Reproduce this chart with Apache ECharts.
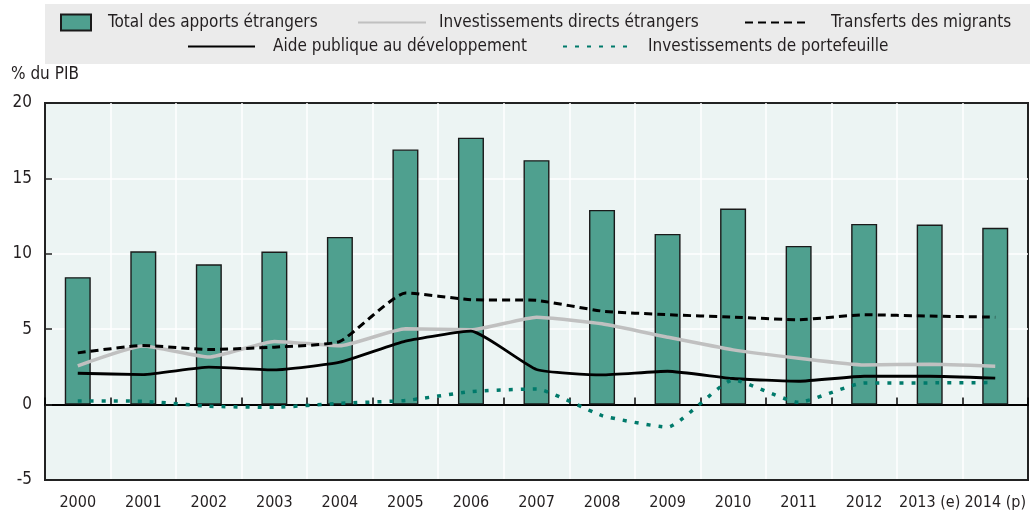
<!DOCTYPE html>
<html>
<head>
<meta charset="utf-8">
<script src="https://cdn.jsdelivr.net/npm/echarts@6/dist/echarts.min.js"></script>
<style>
  html, body { margin: 0; padding: 0; background: #fff; }
  #chart { width: 1032px; height: 513px; }
</style>
</head>
<body>
<div id="chart"></div>
<script>
var years = ['2000', '2001', '2002', '2003', '2004', '2005', '2006', '2007',
             '2008', '2009', '2010', '2011', '2012', '2013 (e)', '2014 (p)'];

// % du PIB
var totalApports = [8.45, 10.17, 9.3, 10.15, 11.12, 16.92, 17.7, 16.21, 12.91, 11.32, 13.0, 10.52, 11.98, 11.94, 11.72];
var ide = [2.57, 3.88, 3.15, 4.19, 3.9, 5.03, 4.96, 5.8, 5.36, 4.47, 3.63, 3.08, 2.63, 2.68, 2.55];
var transferts = [3.43, 3.92, 3.65, 3.81, 4.19, 7.4, 6.96, 6.91, 6.2, 5.96, 5.8, 5.63, 5.96, 5.87, 5.8];
var apd = [2.08, 1.99, 2.48, 2.3, 2.81, 4.21, 4.87, 2.33, 1.97, 2.21, 1.73, 1.55, 1.88, 1.88, 1.75];
var portefeuille = [0.24, 0.22, -0.11, -0.18, 0.09, 0.27, 0.86, 1.04, -0.73, -1.5, 1.64, 0.15, 1.44, 1.44, 1.46];

var yTicks = { min: -5, max: 20, interval: 5 };

var FONT = '"DejaVu Sans Condensed", "Liberation Sans Narrow", sans-serif';
var TXT = '#231f20';

var chart = echarts.init(document.getElementById('chart'));

function legendItem(name, left, top, w, h, pad, isLine) {
	var l = {
		data: [isLine ? name : { name: name, icon: 'rect' }],
		left: left,
		top: top,
		padding: 0,
		itemWidth: w,
		itemHeight: h,
		selectedMode: false,
		textStyle: {
			fontFamily: FONT,
			fontSize: 17,
			color: TXT,
			lineHeight: 20,
			padding: [0, 0, 0, pad]
		}
	};
	// line series: hide the marker, keep the line
	if (isLine) l.itemStyle = { opacity: 0 };
	return l;
}

chart.setOption({
	animation: false,
	textStyle: { fontFamily: FONT },
	graphic: [{
		type: 'rect',
		z: -10,
		shape: { x: 45, y: 4, width: 985, height: 60 },
		style: { fill: '#ebebeb' }
	}],
	title: {
		text: '% du PIB',
		left: 11,
		top: 66,
		padding: 0,
		textStyle: { fontFamily: FONT, fontSize: 17, fontWeight: 'normal', color: TXT }
	},
	legend: [
		legendItem('Total des apports étrangers', 60, 12.5, 30, 16, 12, false),
		legendItem('Investissements directs étrangers', 357, 12.5, 68, 14, 8, true),
		legendItem('Transferts des migrants', 744, 12.5, 64, 14, 17, true),
		legendItem('Aide publique au développement', 187, 36.5, 67, 14, 13, true),
		legendItem('Investissements de portefeuille', 562, 36.5, 68, 14, 12, true)
	],
	grid: {
		left: 45,
		right: 4,
		top: 103,
		bottom: 33,
		show: true,
		backgroundColor: '#ecf4f3',
		borderColor: '#222',
		borderWidth: 2
	},
	xAxis: [{
		type: 'category',
		data: years,
		position: 'bottom',
		axisLine: { onZero: false, lineStyle: { color: '#222', width: 2 } },
		axisTick: { show: false },
		axisLabel: { fontFamily: FONT, fontSize: 16, color: TXT, margin: 15, interval: 0 },
		splitLine: { show: true, interval: 0, showMinLine: false, showMaxLine: false,
			lineStyle: { color: '#ffffff', width: 1.5 } }
	}, {
		type: 'category',
		data: years,
		position: 'bottom',
		axisLine: { onZero: true, lineStyle: { color: '#000', width: 2 } },
		axisTick: { show: true, inside: true, length: 7, interval: 0, lineStyle: { color: '#000', width: 1.5 } },
		axisLabel: { show: false },
		splitLine: { show: false }
	}],
	yAxis: {
		type: 'value',
		min: yTicks.min,
		max: yTicks.max,
		interval: yTicks.interval,
		axisLine: { show: true, onZero: false, lineStyle: { color: '#222', width: 2 } },
		axisTick: { show: true, inside: true, length: 7, lineStyle: { color: '#222', width: 1.5 } },
		axisLabel: { fontFamily: FONT, fontSize: 17, color: TXT, margin: 13 },
		splitLine: { show: true, showMinLine: false, showMaxLine: false,
			lineStyle: { color: '#ffffff', width: 1.5 } }
	},
	series: [{
		name: 'Total des apports étrangers',
		type: 'bar',
		xAxisIndex: 0,
		barWidth: 26,
		itemStyle: { color: '#4fa08f', borderColor: '#1a1a1a', borderWidth: 1.4 },
		data: totalApports
	}, {
		name: 'Investissements directs étrangers',
		type: 'line',
		xAxisIndex: 0,
		symbol: 'none',
		smooth: 0.15,
		lineStyle: { color: '#c0c0c0', width: 3.5 },
		itemStyle: { color: '#c0c0c0' },
		data: ide
	}, {
		name: 'Transferts des migrants',
		type: 'line',
		xAxisIndex: 0,
		symbol: 'none',
		smooth: 0.15,
		lineStyle: { color: '#000', width: 3, type: [8, 5] },
		itemStyle: { color: '#000' },
		data: transferts
	}, {
		name: 'Aide publique au développement',
		type: 'line',
		xAxisIndex: 0,
		symbol: 'none',
		smooth: 0.15,
		lineStyle: { color: '#000', width: 2.8 },
		itemStyle: { color: '#000' },
		data: apd
	}, {
		name: 'Investissements de portefeuille',
		type: 'line',
		xAxisIndex: 0,
		symbol: 'none',
		smooth: 0.15,
		lineStyle: { color: '#007a6b', width: 3.5, type: [4, 8] },
		itemStyle: { color: '#007a6b' },
		data: portefeuille
	}]
});
</script>
</body>
</html>
